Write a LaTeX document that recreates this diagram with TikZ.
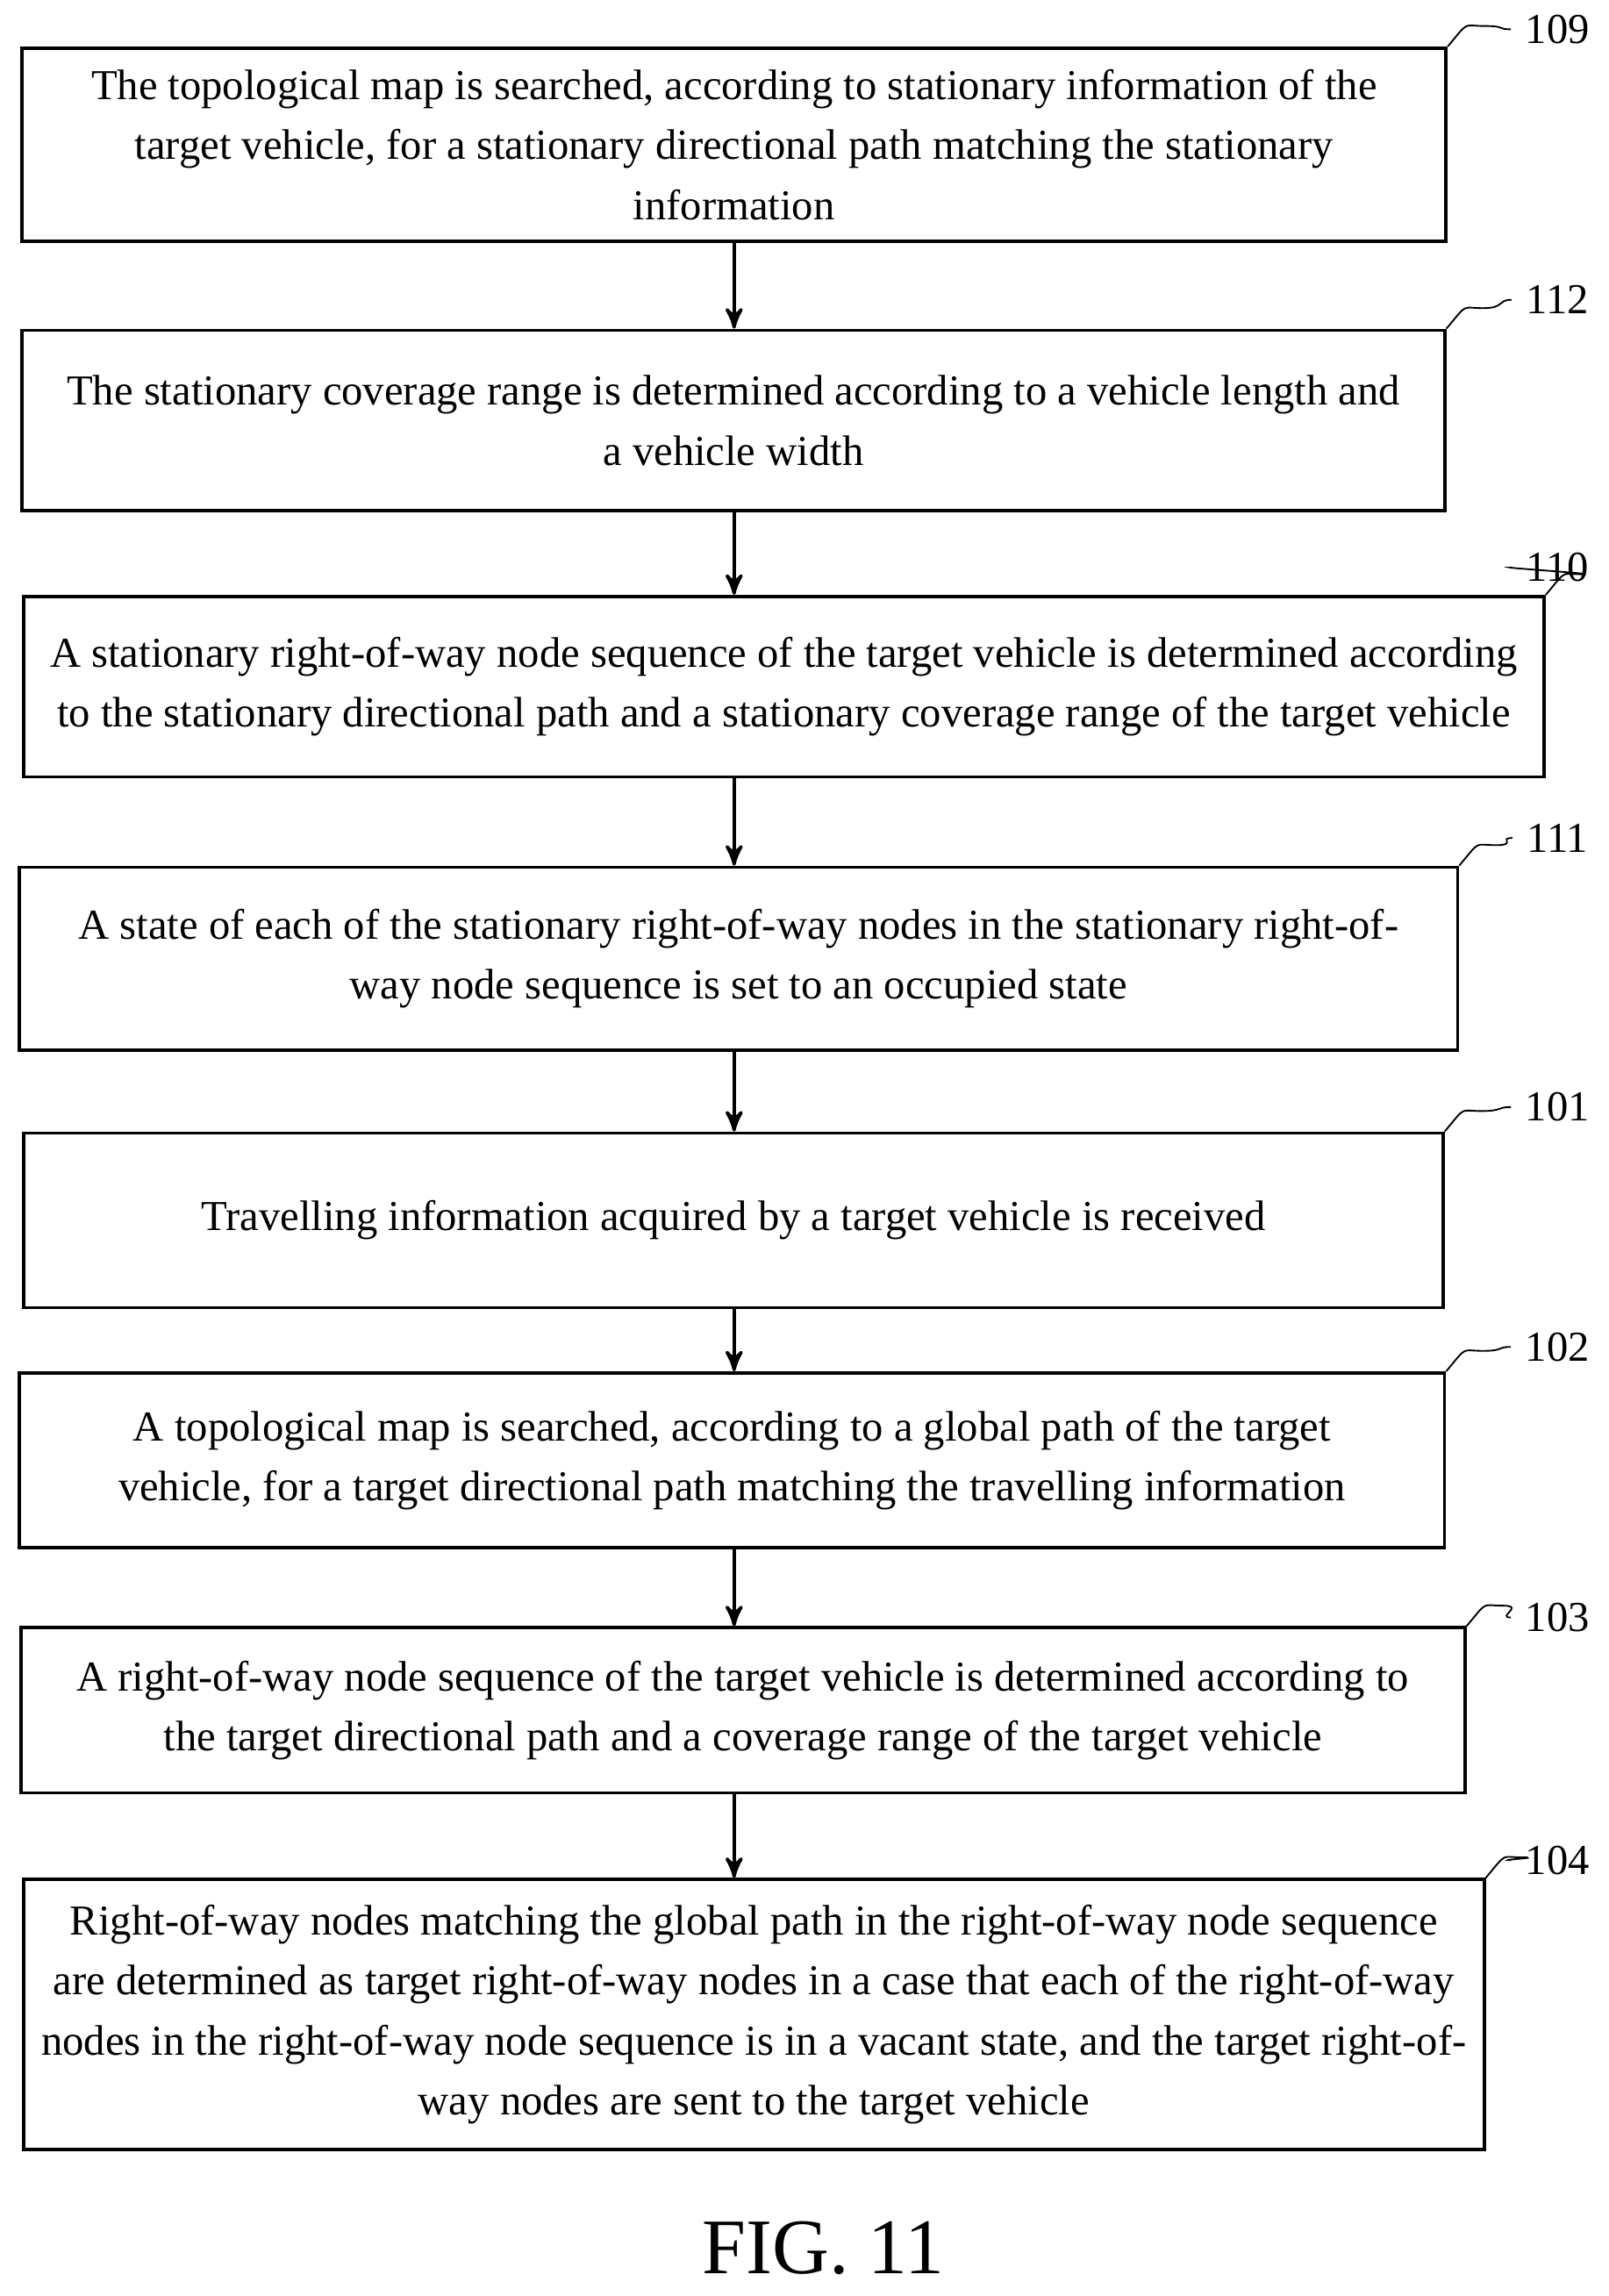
\documentclass[tikz,border=0pt]{standalone}
\usepackage{fontspec}
\setmainfont{Liberation Serif}
\usetikzlibrary{positioning}
\usetikzlibrary{arrows}
\begin{document}
\begin{tikzpicture}[x=0.0124cm,y=-0.0124cm,
    stepbox/.style={draw,thick,align=center,inner sep=0pt,
      font=\fontsize{10.3}{14.5}\selectfont},
    flow/.style={->,>=stealth',thick},
    tag/.style={font=\fontsize{10.3}{12}\selectfont}]
      \useasboundingbox (0,0) rectangle (1100,1570);
      \coordinate (ax) at (502,0);

      \node[stepbox,minimum width=12.08cm,minimum height=1.64cm] (b109) at (502,99)
        {The topological map is searched, according to stationary information of the\\
         target vehicle, for a stationary directional path matching the stationary\\
         information};
      \node[stepbox,minimum width=12.07cm,minimum height=1.53cm] (b112) at (501.5,287.5)
        {The stationary coverage range is determined according to a vehicle length and\\
         a vehicle width};
      \node[stepbox,minimum width=12.90cm,minimum height=1.53cm] (b110) at (536,469.5)
        {A stationary right-of-way node sequence of the target vehicle is determined according\\
         to the stationary directional path and a stationary coverage range of the target vehicle};
      \node[stepbox,minimum width=12.20cm,minimum height=1.55cm] (b111) at (505,655.5)
        {A state of each of the stationary right-of-way nodes in the stationary right-of-\\
         way node sequence is set to an occupied state};
      \node[stepbox,minimum width=12.04cm,minimum height=1.48cm] (b101) at (501.5,834.5)
        {Travelling information acquired by a target vehicle is received};
      \node[stepbox,minimum width=12.09cm,minimum height=1.48cm] (b102) at (500.5,998.5)
        {A topological map is searched, according to a global path of the target\\
         vehicle, for a target directional path matching the travelling information};
      \node[stepbox,minimum width=12.25cm,minimum height=1.40cm] (b103) at (508,1169.5)
        {A right-of-way node sequence of the target vehicle is determined according to\\
         the target directional path and a coverage range of the target vehicle};
      \node[stepbox,minimum width=12.39cm,minimum height=2.29cm] (b104) at (515.5,1377.5)
        {Right-of-way nodes matching the global path in the right-of-way node sequence\\
         are determined as target right-of-way nodes in a case that each of the right-of-way\\
         nodes in the right-of-way node sequence is in a vacant state, and the target right-of-\\
         way nodes are sent to the target vehicle};

      % arrows between steps
      \foreach \a/\b in {b109/b112,b112/b110,b110/b111,b111/b101,b101/b102,b102/b103,b103/b104}
        \draw[flow] (\a.south -| ax) -- (\b.north -| ax);

      % reference numbers
      \foreach \n/\y in {109/20,112/205,110/388,111/573,101/757,102/921,103/1106,104/1272}{
        \node[tag] (t\n) at (1065,\y) {\n};
        \draw (b\n.north east) .. controls +(15,-18) and +(-15,0) .. +(25,-14)
          .. controls +(15,0) and +(-10,0) .. (t\n.west);
      }

      \node[font=\fontsize{19}{23}\selectfont] (fig) at (563,1537) {FIG. 11};
\end{tikzpicture}
\end{document}
